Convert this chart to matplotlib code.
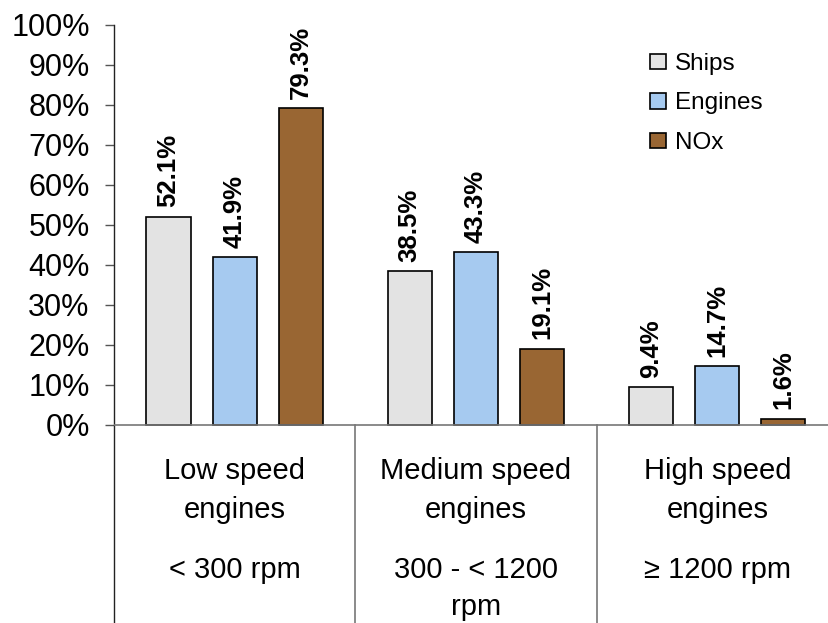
import matplotlib
matplotlib.use("Agg")
import matplotlib.pyplot as plt
import numpy as np

plt.rcParams['font.family'] = ['Liberation Sans', 'DejaVu Sans']

categories_line1 = ["Low speed", "Medium speed", "High speed"]
categories_line2 = ["engines", "engines", "engines"]
categories_line3 = ["< 300 rpm", "300 - < 1200", "≥ 1200 rpm"]
categories_line4 = ["", "rpm", ""]
series_names = ["Ships", "Engines", "NOx"]
ships = [52.1, 38.5, 9.4]
engines = [41.9, 43.3, 14.7]
nox = [79.3, 19.1, 1.6]
colors = ["#E3E3E3", "#A6CAF0", "#996633"]

W, H = 829, 623
fig = plt.figure(figsize=(W / 100, H / 100), dpi=100)
ax = fig.add_axes([114 / W, 0, 1 - 114 / W, 598 / H])

x = np.arange(len(categories_line1))
width = 0.183
offset = 0.274
containers = []
for k, (vals, name, c) in enumerate(zip([ships, engines, nox], series_names, colors)):
    bc = ax.bar(x + (k - 1) * offset, vals, width, color=c, edgecolor="black",
                linewidth=1.2, label=name, zorder=3)
    containers.append(bc)
    for xi, v in zip(x + (k - 1) * offset, vals):
        ax.text(xi, v + 2.3, f"{v:.1f}%", rotation=90, ha="center", va="bottom",
                fontsize=18.5, fontweight="bold")

ax.set_xlim(-0.5, 2.463)
ax.set_ylim(-49.5, 100)
ax.set_yticks(np.arange(0, 101, 10))
ax.set_yticklabels([f"{t}%" for t in range(0, 101, 10)], fontsize=22)
ax.tick_params(axis="y", direction="out", length=6.5, width=1, color="#555555", pad=11)
ax.set_xticks([])
for s in ["top", "right", "bottom"]:
    ax.spines[s].set_visible(False)
ax.spines["left"].set_linewidth(1)
ax.spines["left"].set_color("#222222")

ax.axhline(0, color="#777777", lw=1.2, zorder=4)
for sep in [0.5, 1.5]:
    ax.plot([sep, sep], [0, -49.5], color="#777777", lw=1.2, clip_on=False)

for i in x:
    ax.text(i, -13.5, categories_line1[i], ha="center", va="baseline", fontsize=21)
    ax.text(i, -23.25, categories_line2[i], ha="center", va="baseline", fontsize=21)
    ax.text(i, -38.25, categories_line3[i], ha="center", va="baseline", fontsize=21)
    if categories_line4[i]:
        ax.text(i, -47.5, categories_line4[i], ha="center", va="baseline", fontsize=21)

leg = fig.legend(handles=containers, labels=series_names, loc="upper left",
                 bbox_to_anchor=(650 / W, 1 - 53 / H), frameon=False, fontsize=17.5,
                 handlelength=0.66, handleheight=0.62, handletextpad=0.37,
                 labelspacing=0.72, borderpad=0, borderaxespad=0)
for p in leg.get_patches():
    p.set_linewidth(1.2)

fig.savefig("out.png", dpi=100)
